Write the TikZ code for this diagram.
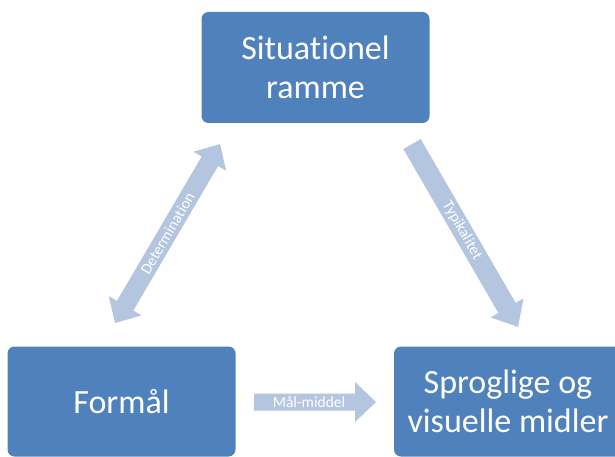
\documentclass[tikz,border=0pt]{standalone}
\usepackage{fontspec}
\setmainfont[Ligatures=NoCommon]{Carlito}
\usetikzlibrary{calc}
\definecolor{boxblue}{RGB}{79,129,189}
\definecolor{arrowblue}{RGB}{180,197,224}
\tikzset{
  box/.style={fill=boxblue, rounded corners=7pt, text=white,
    font=\fontsize{34}{39}\selectfont, align=center, inner sep=0pt,
    minimum width=228pt, minimum height=110pt},
  arrowfill/.style={fill=arrowblue},
  arrowlabel/.style={text=white, font=\fontsize{15.5}{17}\selectfont, inner sep=0pt, transform shape},
}
\begin{document}
\begin{tikzpicture}[x=1pt,y=1pt]
\useasboundingbox (0,0) rectangle (615,456);
\node[box, minimum height=111pt] (top) at (315.5,388.5) {Situationel\\ramme};
\node[box] (formaal) at (121.5,54.5) {Formål};
\node[box] (midler) at (508,54.5) {Sproglige og\\visuelle midler};

% Determination (double arrow)
\begin{scope}[shift={(115,133)}, rotate=59.6]
  \coordinate (detA) at (0,0);
  \coordinate (detB) at (207.5,0);
  \fill[arrowfill] (detA) -- (20,19) -- (20,9.5) -- (187.5,9.5) -- (187.5,19) -- (detB)
    -- (187.5,-19) -- (187.5,-9.5) -- (20,-9.5) -- (20,-19) -- cycle;
  \node[arrowlabel] (detlabel) at (103.75,0) {Determination};
\end{scope}

% Typikalitet
\begin{scope}[shift={(412,312)}, rotate=-59.9]
  \coordinate (typA) at (0,0);
  \coordinate (typB) at (211.5,0);
  \fill[arrowfill] (0,10) -- (189.5,10) -- (189.5,19) -- (typB) -- (189.5,-19)
    -- (189.5,-10) -- (0,-10) -- cycle;
  \node[arrowlabel] (typlabel) at (100,0) {Typikalitet};
\end{scope}

% Mål-middel
\begin{scope}[shift={(254,54)}]
  \coordinate (malA) at (0,0);
  \coordinate (malB) at (122,0);
  \fill[arrowfill] (0,8.5) -- (101,8.5) -- (101,20) -- (malB) -- (101,-20)
    -- (101,-8.5) -- (0,-8.5) -- cycle;
  \node[arrowlabel] (mallabel) at (55,0) {Mål-middel};
\end{scope}
\end{tikzpicture}
\end{document}
